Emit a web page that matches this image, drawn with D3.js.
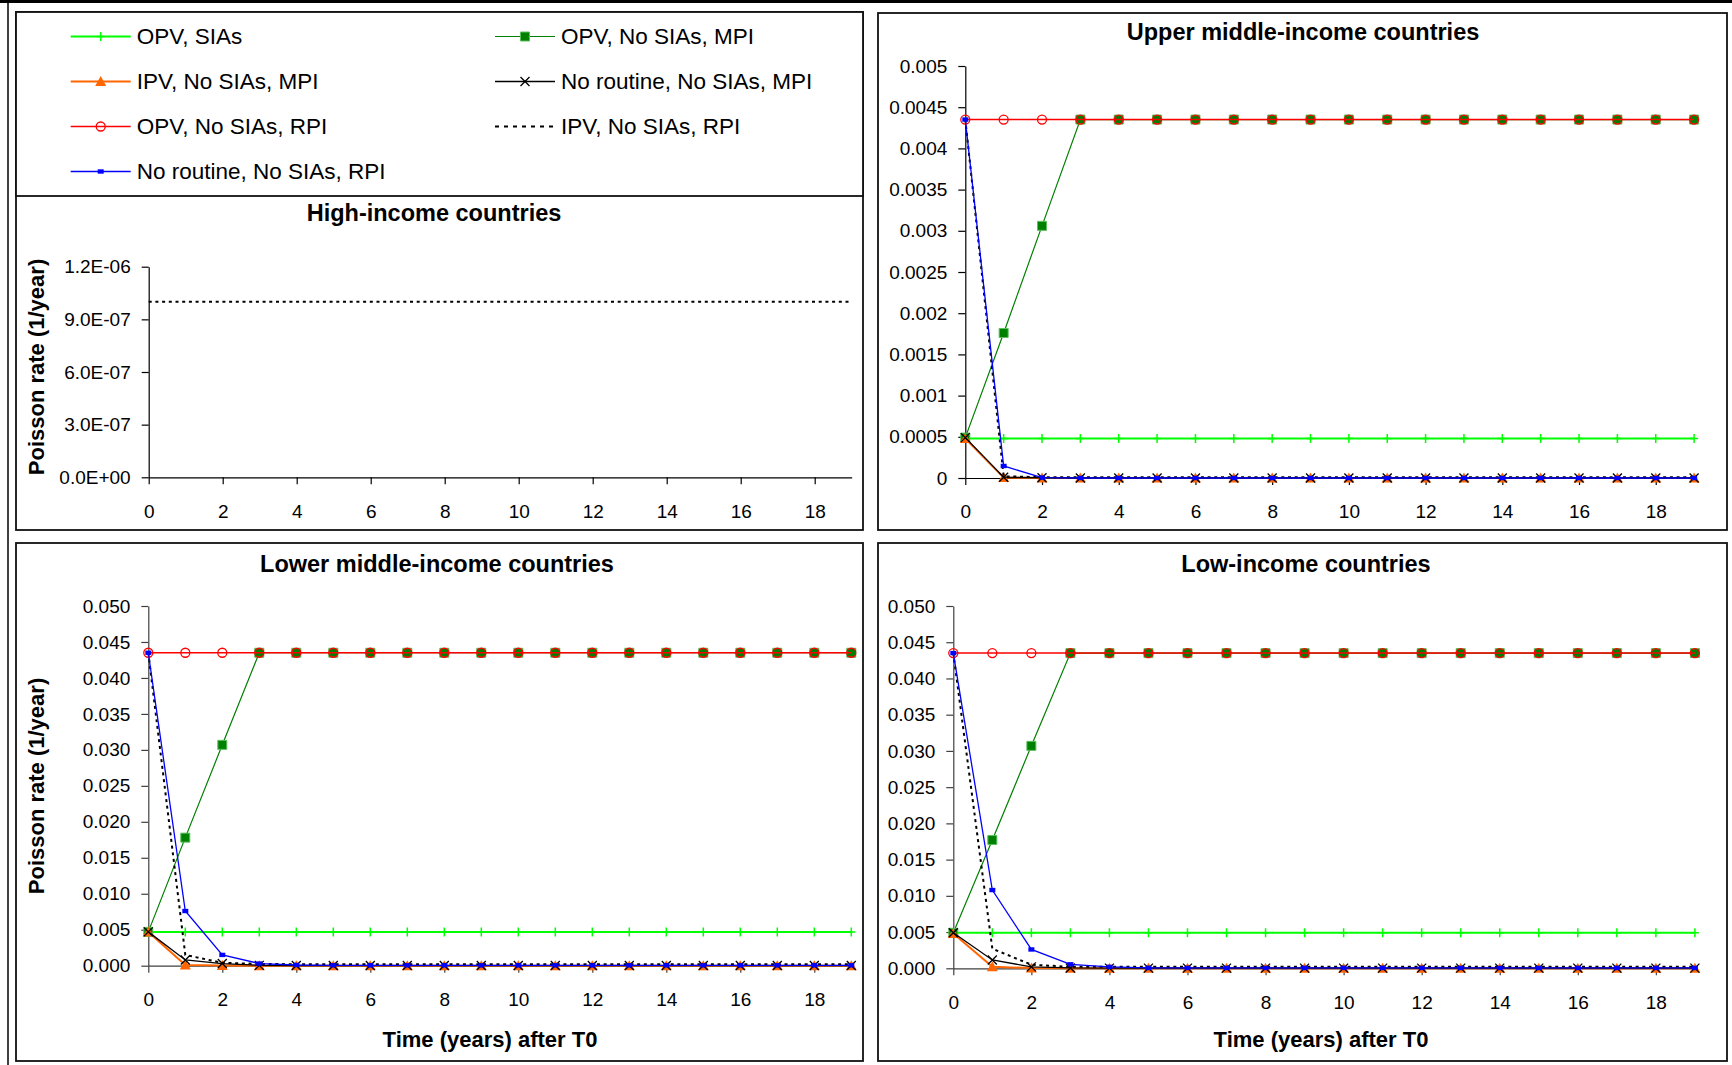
<!DOCTYPE html>
<html>
<head>
<meta charset="utf-8">
<script src="https://cdnjs.cloudflare.com/ajax/libs/d3/7.8.5/d3.min.js"></script>
<style>
  body { margin: 0; background: #fff; }
  svg { display: block; font-family: 'Liberation Sans', Arial, sans-serif; }
</style>
</head>
<body>
<div id="canvas"></div>
<script>

// x categories and ticks
const years = [0, 1, 2, 3, 4, 5, 6, 7, 8, 9, 10, 11, 12, 13, 14, 15, 16, 17, 18, 19];
const xTickValues = [0, 2, 4, 6, 8, 10, 12, 14, 16, 18];

// y ticks for each panel
const yTicksHigh = [0, 3e-7, 6e-7, 9e-7, 1.2e-6];
const yTicksUpper = [0, 0.0005, 0.001, 0.0015, 0.002, 0.0025, 0.003, 0.0035, 0.004, 0.0045, 0.005];
const yTicksLower = [0, 0.005, 0.01, 0.015, 0.02, 0.025, 0.03, 0.035, 0.04, 0.045, 0.05];

// series names, in legend order
const seriesNames = [
  'OPV, SIAs',
  'OPV, No SIAs, MPI',
  'IPV, No SIAs, MPI',
  'No routine, No SIAs, MPI',
  'OPV, No SIAs, RPI',
  'IPV, No SIAs, RPI',
  'No routine, No SIAs, RPI'
];

// high-income countries (only the IPV, No SIAs, RPI series shows)
const highIpvRpi = [1.0e-6, 1.0e-6, 1.0e-6, 1.0e-6, 1.0e-6, 1.0e-6, 1.0e-6, 1.0e-6, 1.0e-6, 1.0e-6,
  1.0e-6, 1.0e-6, 1.0e-6, 1.0e-6, 1.0e-6, 1.0e-6, 1.0e-6, 1.0e-6, 1.0e-6, 1.0e-6];

// upper middle-income countries
const upperOpvSias = [0.00048, 0.00048, 0.00048, 0.00048, 0.00048, 0.00048, 0.00048, 0.00048, 0.00048, 0.00048,
  0.00048, 0.00048, 0.00048, 0.00048, 0.00048, 0.00048, 0.00048, 0.00048, 0.00048, 0.00048];
const upperOpvMpi = [0.00049, 0.00176, 0.00306, 0.00435, 0.00435, 0.00435, 0.00435, 0.00435, 0.00435, 0.00435,
  0.00435, 0.00435, 0.00435, 0.00435, 0.00435, 0.00435, 0.00435, 0.00435, 0.00435, 0.00435];
const upperIpvMpi = [0.00048, 0.000005, 0, 0, 0, 0, 0, 0, 0, 0, 0, 0, 0, 0, 0, 0, 0, 0, 0, 0];
const upperNoRoutineMpi = [0.00049, 0.00001, 0.000003, 0, 0, 0, 0, 0, 0, 0, 0, 0, 0, 0, 0, 0, 0, 0, 0, 0];
const upperOpvRpi = [0.00435, 0.00435, 0.00435, 0.00435, 0.00435, 0.00435, 0.00435, 0.00435, 0.00435, 0.00435,
  0.00435, 0.00435, 0.00435, 0.00435, 0.00435, 0.00435, 0.00435, 0.00435, 0.00435, 0.00435];
const upperIpvRpi = [0.00435, 0.00002, 0.00001, 0.00001, 0.00001, 0.00001, 0.00001, 0.00001, 0.00001, 0.00001,
  0.00001, 0.00001, 0.00001, 0.00001, 0.00001, 0.00001, 0.00001, 0.00001, 0.00001, 0.00001];
const upperNoRoutineRpi = [0.00435, 0.000146, 0.000005, 0, 0, 0, 0, 0, 0, 0, 0, 0, 0, 0, 0, 0, 0, 0, 0, 0];

// lower middle-income countries
const lowerOpvSias = [0.0047, 0.0047, 0.0047, 0.0047, 0.0047, 0.0047, 0.0047, 0.0047, 0.0047, 0.0047,
  0.0047, 0.0047, 0.0047, 0.0047, 0.0047, 0.0047, 0.0047, 0.0047, 0.0047, 0.0047];
const lowerOpvMpi = [0.0047, 0.0178, 0.0307, 0.0435, 0.0435, 0.0435, 0.0435, 0.0435, 0.0435, 0.0435,
  0.0435, 0.0435, 0.0435, 0.0435, 0.0435, 0.0435, 0.0435, 0.0435, 0.0435, 0.0435];
const lowerIpvMpi = [0.0047, 0.0001, 0.00002, 0, 0, 0, 0, 0, 0, 0, 0, 0, 0, 0, 0, 0, 0, 0, 0, 0];
const lowerNoRoutineMpi = [0.0047, 0.0008, 0.0003, 0.00005, 0.00002, 0.00002, 0.00002, 0.00002, 0.00002, 0.00002,
  0.00002, 0.00002, 0.00002, 0.00002, 0.00002, 0.00002, 0.00002, 0.00002, 0.00002, 0.00002];
const lowerOpvRpi = [0.0435, 0.0435, 0.0435, 0.0435, 0.0435, 0.0435, 0.0435, 0.0435, 0.0435, 0.0435,
  0.0435, 0.0435, 0.0435, 0.0435, 0.0435, 0.0435, 0.0435, 0.0435, 0.0435, 0.0435];
const lowerIpvRpi = [0.0435, 0.0015, 0.0004, 0.00025, 0.0002, 0.0002, 0.0002, 0.0002, 0.0002, 0.0002,
  0.0002, 0.0002, 0.0002, 0.0002, 0.0002, 0.0002, 0.0002, 0.0002, 0.0002, 0.0002];
const lowerNoRoutineRpi = [0.0435, 0.0076, 0.0015, 0.0003, 0.0001, 0.00005, 0.00005, 0.00005, 0.00005, 0.00005,
  0.00005, 0.00005, 0.00005, 0.00005, 0.00005, 0.00005, 0.00005, 0.00005, 0.00005, 0.00005];

// low-income countries
const lowOpvSias = [0.0049, 0.0049, 0.0049, 0.0049, 0.0049, 0.0049, 0.0049, 0.0049, 0.0049, 0.0049,
  0.0049, 0.0049, 0.0049, 0.0049, 0.0049, 0.0049, 0.0049, 0.0049, 0.0049, 0.0049];
const lowOpvMpi = [0.0049, 0.0177, 0.0307, 0.0435, 0.0435, 0.0435, 0.0435, 0.0435, 0.0435, 0.0435,
  0.0435, 0.0435, 0.0435, 0.0435, 0.0435, 0.0435, 0.0435, 0.0435, 0.0435, 0.0435];
const lowIpvMpi = [0.0048, 0.0002, 0.00003, 0, 0, 0, 0, 0, 0, 0, 0, 0, 0, 0, 0, 0, 0, 0, 0, 0];
const lowNoRoutineMpi = [0.0049, 0.00115, 0.0002, 0.00005, 0.00002, 0.00002, 0.00002, 0.00002, 0.00002, 0.00002,
  0.00002, 0.00002, 0.00002, 0.00002, 0.00002, 0.00002, 0.00002, 0.00002, 0.00002, 0.00002];
const lowOpvRpi = [0.0435, 0.0435, 0.0435, 0.0435, 0.0435, 0.0435, 0.0435, 0.0435, 0.0435, 0.0435,
  0.0435, 0.0435, 0.0435, 0.0435, 0.0435, 0.0435, 0.0435, 0.0435, 0.0435, 0.0435];
const lowIpvRpi = [0.0435, 0.0027, 0.0005, 0.0002, 0.0002, 0.0002, 0.0002, 0.0002, 0.0002, 0.0002,
  0.0002, 0.0002, 0.0002, 0.0002, 0.0002, 0.0002, 0.0002, 0.0002, 0.0002, 0.0002];
const lowNoRoutineRpi = [0.0435, 0.0108, 0.0026, 0.00055, 0.0002, 0.00005, 0.00005, 0.00005, 0.00005, 0.00005,
  0.00005, 0.00005, 0.00005, 0.00005, 0.00005, 0.00005, 0.00005, 0.00005, 0.00005, 0.00005];

// line + marker style for each series (same order as seriesNames)
const seriesStyle = [
  { color: '#00ff00', width: 2, marker: 'plus' },
  { color: '#008000', width: 1.2, marker: 'square' },
  { color: '#ff6600', width: 2, marker: 'triangle' },
  { color: '#000000', width: 1.3, marker: 'cross' },
  { color: '#ff0000', width: 1.5, marker: 'circle' },
  { color: '#000000', width: 2, dash: '3,3.7', marker: null },
  { color: '#0000ff', width: 1.3, marker: 'rect' }
];

// marker shapes, centred on 0,0
const markerPaths = {
  plus: 'M-4,0H4M0,-4.5V4.5',
  square: 'M-4.5,-4.5h9v9h-9z',
  triangle: 'M0,-5.5L5.5,4.5H-5.5Z',
  cross: 'M-4.5,-4.5L4.5,4.5M-4.5,4.5L4.5,-4.5',
  circle: 'M4.5,0A4.5,4.5 0 1,1 -4.5,0A4.5,4.5 0 1,1 4.5,0',
  rect: 'M-3,-2.2h6v4.4h-6z'
};

const markerAttrs = (sel, st) => {
  if (st.marker === 'plus' || st.marker === 'cross') {
    sel.attr('fill', 'none').attr('stroke', st.color).attr('stroke-width', st.marker === 'plus' ? 1.5 : 1.3);
  } else if (st.marker === 'circle') {
    sel.attr('fill', 'none').attr('stroke', st.color).attr('stroke-width', 1.3);
  } else if (st.marker === 'square') {
    sel.attr('fill', st.color).attr('stroke', '#5cbf5c').attr('stroke-width', 1);
  } else {
    sel.attr('fill', st.color).attr('stroke', 'none');
  }
};

// tick formats
const sciFormat = d => {
  const [m, e] = d.toExponential(1).split('e');
  const n = +e;
  return `${m}E${n < 0 ? '-' : '+'}${String(Math.abs(n)).padStart(2, '0')}`;
};
const plainFormat = d3.format('~g');
const fixedFormat = d3.format('.3f');

// panel layout
const panels = [
  {
    title: 'High-income countries', titleX: 434, titleY: 221,
    box: [16, 12, 863, 530],
    left: 148.7, right: 851.7, top: 266.7, bottom: 477.3,
    yTicks: yTicksHigh, fmt: sciFormat, axisColor: '#000',
    yTitle: [44, 367], xTitle: null,
    series: [null, null, null, null, null, highIpvRpi, null]
  },
  {
    title: 'Upper middle-income countries', titleX: 1303, titleY: 40,
    box: [878, 13, 1727, 530],
    left: 965.3, right: 1694.1, top: 66, bottom: 478,
    yTicks: yTicksUpper, fmt: plainFormat, axisColor: '#000',
    yTitle: null, xTitle: null,
    series: [upperOpvSias, upperOpvMpi, upperIpvMpi, upperNoRoutineMpi, upperOpvRpi, upperIpvRpi, upperNoRoutineRpi]
  },
  {
    title: 'Lower middle-income countries', titleX: 437, titleY: 572,
    box: [16, 543, 863, 1061],
    left: 148.3, right: 851.3, top: 606, bottom: 965.7,
    yTicks: yTicksLower, fmt: fixedFormat, axisColor: '#404040',
    yTitle: [44, 786], xTitle: [490, 1047],
    series: [lowerOpvSias, lowerOpvMpi, lowerIpvMpi, lowerNoRoutineMpi, lowerOpvRpi, lowerIpvRpi, lowerNoRoutineRpi]
  },
  {
    title: 'Low-income countries', titleX: 1306, titleY: 572,
    box: [878, 543, 1727, 1061],
    left: 953.3, right: 1694.9, top: 606, bottom: 968.3,
    yTicks: yTicksLower, fmt: fixedFormat, axisColor: '#404040',
    yTitle: null, xTitle: [1321, 1047],
    series: [lowOpvSias, lowOpvMpi, lowIpvMpi, lowNoRoutineMpi, lowOpvRpi, lowIpvRpi, lowNoRoutineRpi]
  }
];

const svg = d3.select('#canvas')
  .append('svg')
  .attr('width', 1732)
  .attr('height', 1065);

// page edges (cut off text above, left frame line)
svg.append('rect')
  .attr('x', 0).attr('y', 0)
  .attr('width', 1732).attr('height', 3)
  .attr('fill', '#000');

svg.append('line')
  .attr('x1', 8).attr('x2', 8)
  .attr('y1', 0).attr('y2', 1065)
  .attr('stroke', '#000')
  .attr('stroke-width', 1.5);

panels.forEach(p => {

  // panel border
  svg.append('rect')
    .attr('x', p.box[0]).attr('y', p.box[1])
    .attr('width', p.box[2] - p.box[0])
    .attr('height', p.box[3] - p.box[1])
    .attr('fill', '#fff')
    .attr('stroke', '#111')
    .attr('stroke-width', 1.8);

  // scales
  const x = d3.scaleLinear().domain(d3.extent(years)).range([p.left, p.right]);
  const y = d3.scaleLinear().domain(d3.extent(p.yTicks)).range([p.bottom, p.top]);

  // title
  svg.append('text')
    .attr('x', p.titleX)
    .attr('y', p.titleY)
    .attr('text-anchor', 'middle')
    .attr('font-size', 23.5)
    .attr('font-weight', 'bold')
    .text(p.title);

  // axes
  const xAxis = d3.axisBottom(x)
    .tickValues(xTickValues)
    .tickSize(7)
    .tickSizeOuter(0)
    .tickPadding(20)
    .tickFormat(d3.format('d'));

  const yAxis = d3.axisLeft(y)
    .tickValues(p.yTicks)
    .tickSize(7)
    .tickSizeOuter(0)
    .tickPadding(11)
    .tickFormat(p.fmt);

  [
    svg.append('g').attr('transform', `translate(0,${p.bottom})`).call(xAxis),
    svg.append('g').attr('transform', `translate(${p.left},0)`).call(yAxis)
  ].forEach(g => {
    g.attr('font-family', null).attr('font-size', 19);
    g.selectAll('path, line').attr('stroke', p.axisColor).attr('stroke-width', 1.2);
    g.selectAll('text').attr('fill', '#000');
  });

  // axis titles
  if (p.yTitle) {
    svg.append('text')
      .attr('transform', `translate(${p.yTitle[0]},${p.yTitle[1]}) rotate(-90)`)
      .attr('text-anchor', 'middle')
      .attr('font-size', 22)
      .attr('font-weight', 'bold')
      .text('Poisson rate (1/year)');
  }
  if (p.xTitle) {
    svg.append('text')
      .attr('x', p.xTitle[0])
      .attr('y', p.xTitle[1])
      .attr('text-anchor', 'middle')
      .attr('font-size', 22)
      .attr('font-weight', 'bold')
      .text('Time (years) after T0');
  }

  // series lines and markers
  const line = d3.line()
    .x(d => x(d.year))
    .y(d => y(d.value));

  p.series.forEach((values, i) => {
    if (!values) return;
    const st = seriesStyle[i];
    const data = years.map((year, j) => ({ year, value: values[j] }));

    svg.append('path')
      .datum(data)
      .attr('fill', 'none')
      .attr('stroke', st.color)
      .attr('stroke-width', st.width)
      .attr('stroke-dasharray', st.dash || null)
      .attr('d', line);

    if (st.marker) {
      svg.append('g')
        .selectAll('path')
        .data(data)
        .enter()
        .append('path')
          .attr('transform', d => `translate(${x(d.year)},${y(d.value)})`)
          .attr('d', markerPaths[st.marker])
          .call(markerAttrs, st);
    }
  });
});

// legend box over the top of the high-income panel
svg.append('rect')
  .attr('x', 16).attr('y', 12)
  .attr('width', 847).attr('height', 184)
  .attr('fill', '#fff')
  .attr('stroke', '#111')
  .attr('stroke-width', 1.8);

const legend = svg.append('g').attr('class', 'legend');

seriesNames.forEach((name, i) => {
  const st = seriesStyle[i];
  const lx = i % 2 === 0 ? 70.7 : 495;
  const ly = 36.5 + Math.floor(i / 2) * 45;

  legend.append('line')
    .attr('x1', lx).attr('x2', lx + 60)
    .attr('y1', ly).attr('y2', ly)
    .attr('stroke', st.color)
    .attr('stroke-width', st.dash ? 2 : st.width)
    .attr('stroke-dasharray', st.dash ? '4,5' : null);

  if (st.marker) {
    legend.append('path')
      .attr('transform', `translate(${lx + 30},${ly})`)
      .attr('d', markerPaths[st.marker])
      .call(markerAttrs, st);
  }

  legend.append('text')
    .attr('x', lx + 66)
    .attr('y', ly + 7)
    .attr('font-size', 22.5)
    .text(name);
});

</script>
</body>
</html>
